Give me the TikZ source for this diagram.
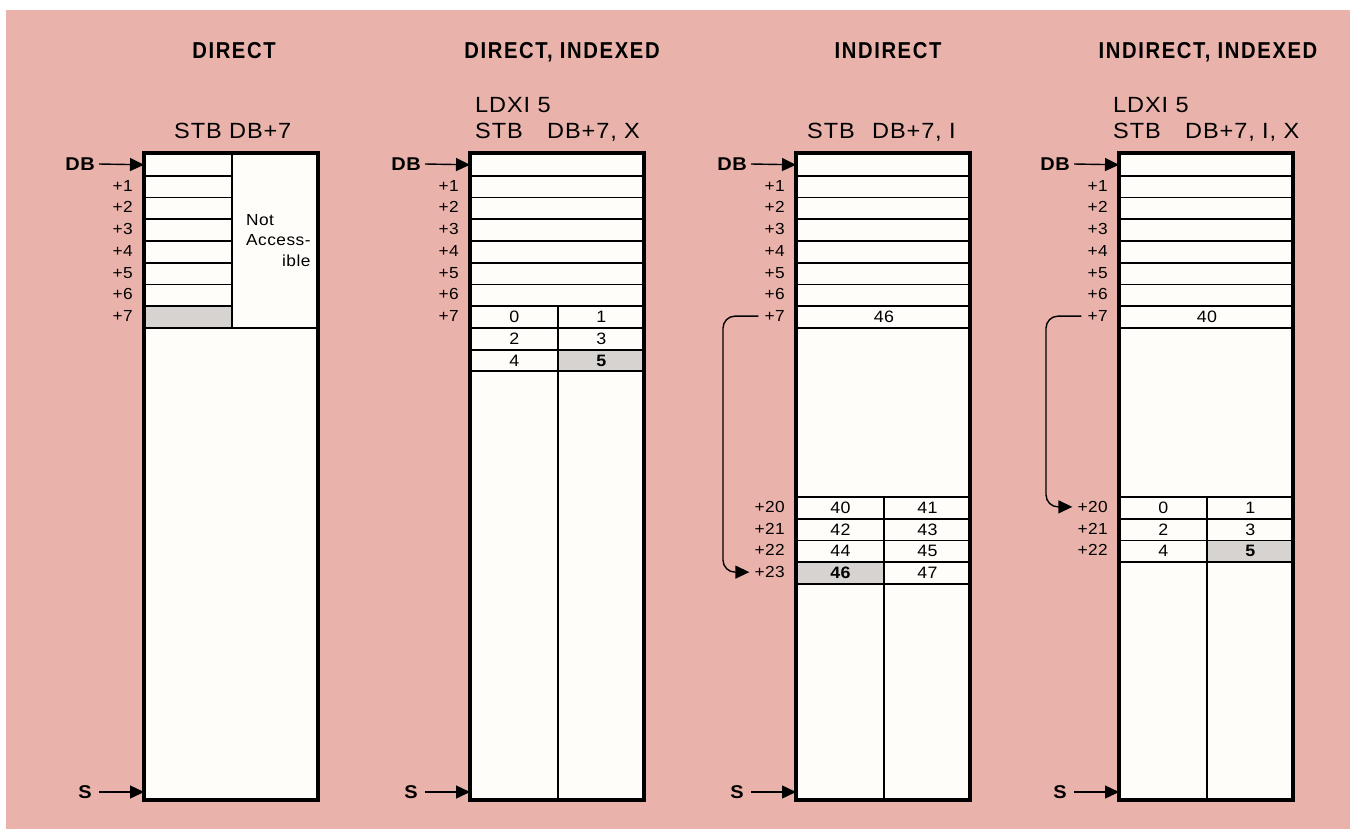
\documentclass[tikz,border=0pt]{standalone}
\usepackage{fontspec}
\setmainfont{Liberation Sans}
\newfontfamily\titlefont[FakeStretch=0.88,LetterSpace=7]{Liberation Sans}
\newfontfamily\codefont[FakeStretch=1.07,LetterSpace=4]{Liberation Sans}
\newfontfamily\lblfont[FakeStretch=1.08,LetterSpace=3]{Liberation Sans}
\usetikzlibrary{arrows.meta}
\definecolor{bgpink}{RGB}{233,178,170}
\definecolor{cellwhite}{RGB}{255,253,250}
\definecolor{shade}{RGB}{214,211,208}
\begin{document}
\begin{tikzpicture}[x=1pt,y=-1pt,
  cell/.style={draw=black, line width=1.8pt, fill=cellwhite, anchor=north west, inner sep=0pt, minimum height=21.75pt, font=\lblfont\fontsize{16.5}{18}\selectfont},
  half/.style={cell, minimum width=87pt},
  full/.style={cell, minimum width=174pt},
  grey/.style={fill=shade, font=\lblfont\bfseries\fontsize{16.5}{18}\selectfont},
  rowlbl/.style={anchor=east, inner sep=0pt, font=\lblfont\fontsize{16}{18}\selectfont},
  ptrlbl/.style={anchor=east, inner sep=0pt, font=\lblfont\bfseries\fontsize{18.5}{20}\selectfont},
  title/.style={anchor=base, inner sep=0pt, font=\titlefont\bfseries\fontsize{23}{26}\selectfont},
  code/.style={anchor=base west, inner sep=0pt, font=\codefont\fontsize{22}{24}\selectfont},
  ptr/.style={line width=1.4pt, -{Triangle[length=14pt,width=13pt]}},
  outline/.style={draw=black, line width=3.2pt},
]
\useasboundingbox (0,0) rectangle (1350,828);
\fill[white] (-5,-5) rectangle (1360,840);
\fill[bgpink] (6,10) rectangle (1360,840);

% ---------------- Panel 1: DIRECT ----------------
\begin{scope}[xshift=144pt]
\node[title] (t1) at (90,58) {DIRECT};
\node[code] (k1) at (30,138) {STB DB+7};
\foreach \k in {0,...,6} { \node[half] (p1c\k) at (0,{153+21.75*\k}) {}; }
\node[half, grey] (p1c7) at (0,{153+21.75*7}) {};
\node[cell, minimum width=87pt, minimum height=174pt] (p1na) at (87,153) {};
\node[anchor=north west, inner sep=0pt, align=left, font=\lblfont\fontsize{16}{20.5}\selectfont] (p1nat) at (102,214) {Not\\Access-\\\null\hfill ible};
\node[full, minimum height=473pt] (p1low) at (0,327) {};
\foreach \k in {1,...,7} { \node[rowlbl] (p1l\k) at (-11,{153+21.75*\k+10.875}) {+\k}; }
\draw[outline] (0,153) rectangle (174,800);
\node[ptrlbl] (p1db) at (-49,164) {DB};
\draw[ptr] ([xshift=4pt]p1db.east) -- (p1c0.west);
\node[ptrlbl] (p1s) at (-52,792) {S};
\coordinate (p1st) at (0,792);
\draw[ptr] ([xshift=7pt]p1s.east) -- (p1st);
\end{scope}

% ---------------- Panel 2: DIRECT, INDEXED ----------------
\begin{scope}[xshift=470pt]
\node[title] (t2) at (92,58) {DIRECT, INDEXED};
\node[code] (k2a) at (5,112) {LDXI 5};
\node[code] (k2b) at (5,138) {\makebox[72pt][l]{STB}DB+7, X};
\foreach \k in {0,...,6} { \node[full] (p2c\k) at (0,{153+21.75*\k}) {}; }
\node[half] (p2a0) at (0,{153+21.75*7}) {0};
\node[half] (p2b0) at (87,{153+21.75*7}) {1};
\node[half] (p2a1) at (0,{153+21.75*8}) {2};
\node[half] (p2b1) at (87,{153+21.75*8}) {3};
\node[half] (p2a2) at (0,{153+21.75*9}) {4};
\node[half, grey] (p2b2) at (87,{153+21.75*9}) {5};
\node[half, minimum height=429.75pt] (p2lowa) at (0,370.25) {};
\node[half, minimum height=429.75pt] (p2lowb) at (87,370.25) {};
\foreach \k in {1,...,7} { \node[rowlbl] (p2l\k) at (-11,{153+21.75*\k+10.875}) {+\k}; }
\draw[outline] (0,153) rectangle (174,800);
\node[ptrlbl] (p2db) at (-49,164) {DB};
\draw[ptr] ([xshift=4pt]p2db.east) -- (p2c0.west);
\node[ptrlbl] (p2s) at (-52,792) {S};
\coordinate (p2st) at (0,792);
\draw[ptr] ([xshift=7pt]p2s.east) -- (p2st);
\end{scope}

% ---------------- Panel 3: INDIRECT ----------------
\begin{scope}[xshift=796pt]
\node[title] (t3) at (92,58) {INDIRECT};
\node[code] (k3) at (11,138) {\makebox[65pt][l]{STB}DB+7, I};
\foreach \k in {0,...,6} { \node[full] (p3c\k) at (0,{153+21.75*\k}) {}; }
\node[full] (p3c7) at (0,{153+21.75*7}) {46};
\node[full, minimum height=169pt] (p3gap) at (0,327) {};
\node[half] (p3a0) at (0,496) {40};
\node[half] (p3b0) at (87,496) {41};
\node[half] (p3a1) at (0,517.75) {42};
\node[half] (p3b1) at (87,517.75) {43};
\node[half] (p3a2) at (0,539.5) {44};
\node[half] (p3b2) at (87,539.5) {45};
\node[half, grey] (p3a3) at (0,561.25) {46};
\node[half] (p3b3) at (87,561.25) {47};
\node[half, minimum height=217pt] (p3lowa) at (0,583) {};
\node[half, minimum height=217pt] (p3lowb) at (87,583) {};
\foreach \k in {1,...,7} { \node[rowlbl] (p3l\k) at (-11,{153+21.75*\k+10.875}) {+\k}; }
\node[rowlbl] (p3l20) at (-11,506.875) {+20};
\node[rowlbl] (p3l21) at (-11,528.625) {+21};
\node[rowlbl] (p3l22) at (-11,550.375) {+22};
\node[rowlbl] (p3l23) at (-11,572.125) {+23};
\draw[outline] (0,153) rectangle (174,800);
\node[ptrlbl] (p3db) at (-49,164) {DB};
\draw[ptr] ([xshift=4pt]p3db.east) -- (p3c0.west);
\node[ptrlbl] (p3s) at (-52,792) {S};
\coordinate (p3st) at (0,792);
\draw[ptr] ([xshift=7pt]p3s.east) -- (p3st);
\coordinate (p3bend) at (-73,400);
\draw[ptr, rounded corners=12pt] ([xshift=-6pt]p3l7.west) -- (p3bend |- p3l7.west) -- (p3bend |- p3l23.west) -- ([xshift=-5pt]p3l23.west);
\end{scope}

% ---------------- Panel 4: INDIRECT, INDEXED ----------------
\begin{scope}[xshift=1119pt]
\node[title] (t4) at (89,58) {INDIRECT, INDEXED};
\node[code] (k4a) at (-6,112) {LDXI 5};
\node[code] (k4b) at (-6,138) {\makebox[72pt][l]{STB}DB+7, I, X};
\foreach \k in {0,...,6} { \node[full] (p4c\k) at (0,{153+21.75*\k}) {}; }
\node[full] (p4c7) at (0,{153+21.75*7}) {40};
\node[full, minimum height=169pt] (p4gap) at (0,327) {};
\node[half] (p4a0) at (0,496) {0};
\node[half] (p4b0) at (87,496) {1};
\node[half] (p4a1) at (0,517.75) {2};
\node[half] (p4b1) at (87,517.75) {3};
\node[half] (p4a2) at (0,539.5) {4};
\node[half, grey] (p4b2) at (87,539.5) {5};
\node[half, minimum height=238.75pt] (p4lowa) at (0,561.25) {};
\node[half, minimum height=238.75pt] (p4lowb) at (87,561.25) {};
\foreach \k in {1,...,7} { \node[rowlbl] (p4l\k) at (-11,{153+21.75*\k+10.875}) {+\k}; }
\node[rowlbl] (p4l20) at (-11,506.875) {+20};
\node[rowlbl] (p4l21) at (-11,528.625) {+21};
\node[rowlbl] (p4l22) at (-11,550.375) {+22};
\draw[outline] (0,153) rectangle (174,800);
\node[ptrlbl] (p4db) at (-49,164) {DB};
\draw[ptr] ([xshift=4pt]p4db.east) -- (p4c0.west);
\node[ptrlbl] (p4s) at (-52,792) {S};
\coordinate (p4st) at (0,792);
\draw[ptr] ([xshift=7pt]p4s.east) -- (p4st);
\coordinate (p4bend) at (-73,400);
\draw[ptr, rounded corners=12pt] ([xshift=-6pt]p4l7.west) -- (p4bend |- p4l7.west) -- (p4bend |- p4l20.west) -- ([xshift=-5pt]p4l20.west);
\end{scope}
\end{tikzpicture}
\end{document}
